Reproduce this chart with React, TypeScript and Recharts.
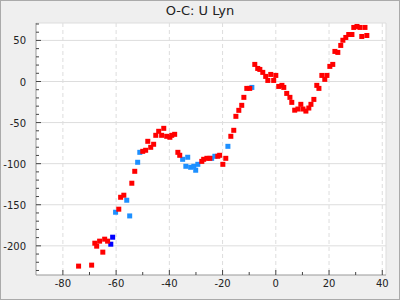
import React from 'react';
import { ScatterChart, Scatter, XAxis, YAxis, CartesianGrid, ReferenceLine } from 'recharts';

const chartTitle = 'O-C: U Lyn';

// O-C points [cycle (x1000), O-C]
const redPoints: [number, number][] = [
  [-74.1, -224.7], [-69.2, -223.5], [-68.0, -196.8], [-67.3, -200.4], [-66.2, -194.3],
  [-65.0, -207.7], [-64.3, -191.9], [-63.2, -194.3], [-59.0, -155.4], [-58.3, -140.9],
  [-57.1, -138.4], [-54.1, -123.8], [-53.0, -109.3], [-50.0, -85.0], [-48.9, -83.7],
  [-48.1, -72.8], [-47.0, -80.1], [-45.9, -76.4], [-45.1, -65.5], [-44.0, -60.6],
  [-42.9, -65.5], [-42.1, -57.0], [-41.0, -66.7], [-39.8, -67.9], [-39.1, -65.5],
  [-38.0, -64.3], [-36.8, -86.2], [-36.1, -89.8], [-27.8, -97.2], [-27.1, -94.7],
  [-25.9, -93.5], [-24.8, -93.5], [-21.8, -91.0], [-21.1, -89.8], [-19.9, -100.8],
  [-18.8, -93.5], [-16.9, -66.7], [-15.8, -59.4], [-15.0, -42.4], [-13.9, -35.1],
  [-12.8, -29.0], [-12.0, -19.3], [-10.9, -8.4], [-9.8, -8.4], [-7.9, 20.8],
  [-6.8, 15.9], [-6.0, 14.7], [-4.9, 11.1], [-3.8, 6.2], [-3.0, 1.3],
  [-1.9, 8.6], [-0.8, 1.3], [0.0, 7.4], [1.1, -6.0], [2.3, -4.7],
  [3.0, -7.2], [4.1, -14.5], [5.3, -19.3], [6.0, -25.4], [7.1, -34.9],
  [8.3, -33.5], [9.4, -27.8], [10.2, -33.5], [11.3, -36.0], [12.4, -32.3],
  [13.2, -27.8], [14.3, -21.8], [15.4, -4.7], [16.2, -8.4], [17.3, 7.4],
  [18.4, 2.6], [19.2, 7.4], [20.3, 18.4], [21.4, 20.8], [22.2, 36.6],
  [23.3, 35.4], [24.4, 43.9], [25.2, 50.2], [26.3, 53.6], [27.4, 57.2],
  [28.6, 57.2], [29.3, 65.8], [30.5, 67.0], [31.6, 65.8], [33.5, 65.8],
  [32.3, 54.8], [34.2, 56.0],
];

const lightBluePoints: [number, number][] = [
  [-60.2, -159.1], [-56.0, -144.5], [-54.9, -163.6], [-51.9, -98.3], [-51.1, -86.2],
  [-35.0, -94.7], [-33.8, -103.2], [-33.1, -92.2], [-32.0, -104.4], [-30.8, -103.2],
  [-30.1, -108.0], [-29.3, -100.8], [-24.1, -93.5], [-22.9, -91.0], [-18.0, -78.9],
  [-9.0, -7.2],
];

const darkBluePoints: [number, number][] = [
  [-62.0, -198.0], [-61.3, -189.5],
];

const xMajorTicks = [-80, -60, -40, -20, 0, 20, 40];
const xMinorTicks = [-70, -50, -30, -10, 10, 30];
const yMajorTicks = [-200, -150, -100, -50, 0, 50];
const yMinorTicks = [
  -230, -220, -210, -190, -180, -170, -160, -140, -130, -120, -110,
  -90, -80, -70, -60, -40, -30, -20, -10, 10, 20, 30, 40, 60, 70,
];

const xDomain: [number, number] = [-90.1, 41.4];
const yDomain: [number, number] = [-235.5, 71.2];

const toData = (pts: [number, number][]) => pts.map(([x, y]) => ({ x, y }));

const font = '"DejaVu Sans", sans-serif';

const square = (color: string) => (props: any) => (
  <rect x={props.cx - 2.5} y={props.cy - 2.5} width={5} height={5} fill={color} />
);

// ticks point into the plot; majors get a label
const XTick = ({ x, y, payload }: any) => {
  if (xMajorTicks.includes(payload.value)) {
    return (
      <g>
        <line x1={x} x2={x} y1={y} y2={y - 5} stroke="#444" />
        <text x={x} y={y + 12} textAnchor="middle" fontSize={10} fill="#222" fontFamily={font}>
          {payload.value}
        </text>
      </g>
    );
  }
  return <line x1={x} x2={x} y1={y} y2={y - 3} stroke="#444" />;
};

const YTick = ({ x, y, payload }: any) => {
  if (yMajorTicks.includes(payload.value)) {
    return (
      <g>
        <line x1={x} x2={x + 5} y1={y} y2={y} stroke="#444" />
        <text x={x - 10} y={y + 4} textAnchor="end" fontSize={10} fill="#222" fontFamily={font}>
          {payload.value}
        </text>
      </g>
    );
  }
  return <line x1={x} x2={x + 3} y1={y} y2={y} stroke="#444" />;
};

const App: React.FC = () => {
  return (
    <div
      style={{
        position: 'fixed',
        left: 0,
        top: 0,
        width: 400,
        height: 300,
        background: '#efefef',
        boxShadow: 'inset 0 0 0 1px #aaa',
      }}
    >
      <div
        style={{
          position: 'absolute',
          top: 0,
          left: 0,
          width: 400,
          height: 22,
          lineHeight: '22px',
          textAlign: 'center',
          fontFamily: font,
          fontSize: 13,
          color: '#222',
        }}
      >
        {chartTitle}
      </div>
      <div style={{ position: 'absolute', left: 0, top: 0 }}>
        <ScatterChart width={400} height={300} margin={{ top: 23, right: 14, bottom: 0, left: 0 }}>
          <CartesianGrid
            vertical={false}
            horizontalValues={yMajorTicks}
            stroke="#ddd"
            fill="#fff"
            fillOpacity={1}
          />
          <CartesianGrid horizontal={false} verticalValues={xMajorTicks} stroke="#ddd" strokeDasharray="4 3" />
          <ReferenceLine y={yDomain[1]} stroke="#ddd" />
          <ReferenceLine x={xDomain[1]} stroke="#ddd" />
          <XAxis
            type="number"
            dataKey="x"
            domain={xDomain}
            allowDataOverflow
            ticks={[...xMajorTicks, ...xMinorTicks].sort((a, b) => a - b)}
            interval={0}
            tick={<XTick />}
            tickLine={false}
            tickSize={0}
            tickMargin={0}
            height={25}
            axisLine={{ stroke: '#999' }}
          />
          <YAxis
            type="number"
            dataKey="y"
            domain={yDomain}
            allowDataOverflow
            ticks={[...yMajorTicks, ...yMinorTicks].sort((a, b) => a - b)}
            interval={0}
            tick={<YTick />}
            tickLine={false}
            tickSize={0}
            tickMargin={0}
            width={36}
            axisLine={{ stroke: '#999' }}
          />
          <Scatter data={toData(lightBluePoints)} shape={square('#1e90ff')} isAnimationActive={false} />
          <Scatter data={toData(darkBluePoints)} shape={square('#0000ff')} isAnimationActive={false} />
          <Scatter data={toData(redPoints)} shape={square('#ff0000')} isAnimationActive={false} />
        </ScatterChart>
      </div>
    </div>
  );
};

export default App;
